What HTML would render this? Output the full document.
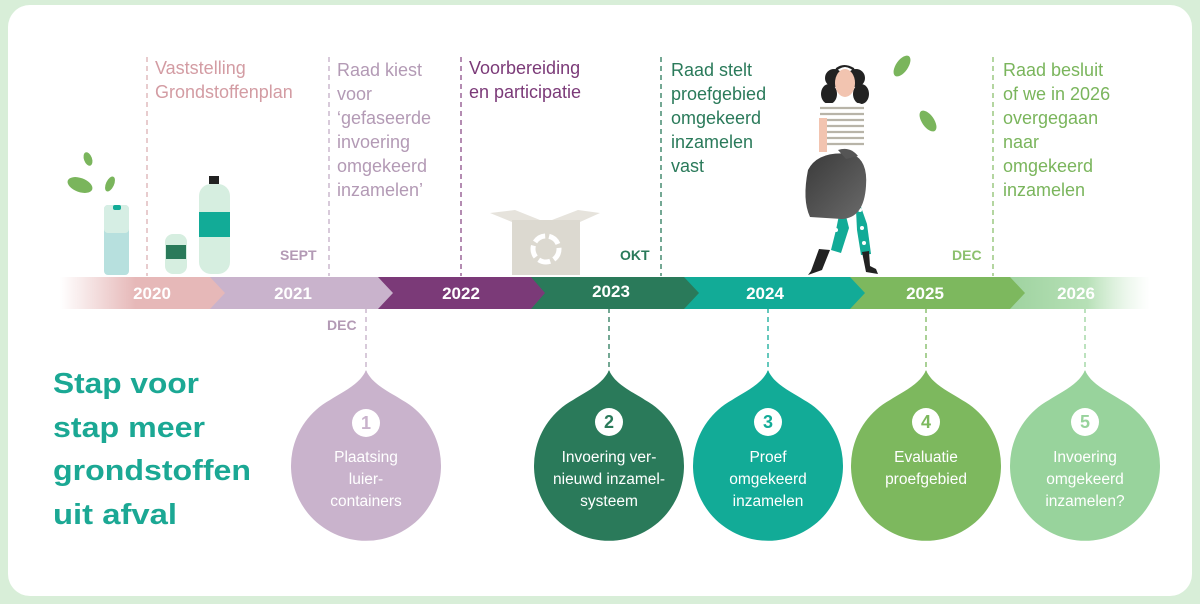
<!DOCTYPE html>
<html><head><meta charset="utf-8"><style>
html,body{margin:0;padding:0;background:#d8eed8;}
svg{display:block;font-family:"Liberation Sans",sans-serif;}
</style></head><body>
<svg width="1200" height="604" viewBox="0 0 1200 604" xmlns="http://www.w3.org/2000/svg">
<defs>
<linearGradient id="gL" x1="0" x2="1"><stop offset="0" stop-color="#e6b8b8" stop-opacity="0"/><stop offset="0.45" stop-color="#e6b8b8"/></linearGradient>
<linearGradient id="gR" x1="0" x2="1"><stop offset="0" stop-color="#9fd3a0"/><stop offset="0.55" stop-color="#b6e0b6"/><stop offset="1" stop-color="#d8efd8" stop-opacity="0"/></linearGradient>
<linearGradient id="bag" x1="0" x2="1" y1="0" y2="1"><stop offset="0" stop-color="#3a3a3a"/><stop offset="1" stop-color="#6a6a6a"/></linearGradient>
</defs>
<rect x="0" y="0" width="1200" height="604" fill="#d8eed8"/>
<rect x="8" y="5" width="1184" height="591" rx="22" fill="#fff"/>

<g stroke-dasharray="5,4" stroke-width="1.3" fill="none">
<line x1="147" y1="57" x2="147" y2="276" stroke="#dcb0b4"/>
<line x1="329" y1="57" x2="329" y2="276" stroke="#c4adc6"/>
<line x1="461" y1="57" x2="461" y2="276" stroke="#8b4f88"/>
<line x1="661" y1="57" x2="661" y2="276" stroke="#2a7a5a"/>
<line x1="993" y1="57" x2="993" y2="276" stroke="#8cc06e"/>
<line x1="366" y1="308" x2="366" y2="372" stroke="#c4adc6"/>
<line x1="609" y1="308" x2="609" y2="372" stroke="#2a7a5a"/>
<line x1="768" y1="308" x2="768" y2="372" stroke="#12ab97"/>
<line x1="926" y1="308" x2="926" y2="372" stroke="#7db85e"/>
<line x1="1085" y1="308" x2="1085" y2="372" stroke="#98d39c"/>
</g>

<g font-size="18">
<text fill="#d39ca3"><tspan x="155" y="74">Vaststelling</tspan><tspan x="155" y="98">Grondstoffenplan</tspan></text>
<text fill="#b39ab5"><tspan x="337" y="76">Raad kiest</tspan><tspan x="337" y="100">voor</tspan><tspan x="337" y="124">‘gefaseerde</tspan><tspan x="337" y="148">invoering</tspan><tspan x="337" y="172">omgekeerd</tspan><tspan x="337" y="196">inzamelen’</tspan></text>
<text fill="#7b3a78"><tspan x="469" y="74">Voorbereiding</tspan><tspan x="469" y="98">en participatie</tspan></text>
<text fill="#2a7a5a"><tspan x="671" y="76">Raad stelt</tspan><tspan x="671" y="100">proefgebied</tspan><tspan x="671" y="124">omgekeerd</tspan><tspan x="671" y="148">inzamelen</tspan><tspan x="671" y="172">vast</tspan></text>
<text fill="#7ab55c"><tspan x="1003" y="76">Raad besluit</tspan><tspan x="1003" y="100">of we in 2026</tspan><tspan x="1003" y="124">overgegaan</tspan><tspan x="1003" y="148">naar</tspan><tspan x="1003" y="172">omgekeerd</tspan><tspan x="1003" y="196">inzamelen</tspan></text>
</g>
<g font-size="14" font-weight="bold">
<text x="280" y="260" fill="#b39ab5">SEPT</text>
<text x="327" y="330" fill="#b39ab5">DEC</text>
<text x="620" y="260" fill="#2a7a5a">OKT</text>
<text x="952" y="260" fill="#8cc06e">DEC</text>
</g>

<g>
<ellipse cx="80" cy="185" rx="13" ry="7" fill="#7ab55c" transform="rotate(20 80 185)"/>
<ellipse cx="88" cy="159" rx="4" ry="7" fill="#7ab55c" transform="rotate(-20 88 159)"/>
<ellipse cx="110" cy="184" rx="4" ry="8" fill="#7ab55c" transform="rotate(25 110 184)"/>
<rect x="104" y="205" width="25" height="70" rx="4" fill="#b7e0de"/>
<rect x="104" y="205" width="25" height="28" rx="4" fill="#d6eee4"/>
<rect x="113" y="205" width="8" height="5" rx="2" fill="#12ab97"/>
<rect x="165" y="234" width="22" height="40" rx="8" fill="#d6eee0"/>
<rect x="166" y="245" width="20" height="14" fill="#2a7a5a"/>
<rect x="209" y="176" width="10" height="8" fill="#222"/>
<rect x="199" y="184" width="31" height="90" rx="12" fill="#d6eee0"/>
<rect x="199" y="212" width="31" height="25" fill="#12ab97"/>
</g>
<g>
<polygon points="490,213 512,222 540,220 515,210" fill="#e6e3dc"/>
<polygon points="600,213 580,222 552,220 578,210" fill="#e6e3dc"/>
<rect x="512" y="220" width="68" height="55" fill="#dcd9d0"/>
<circle cx="546" cy="249" r="13" fill="none" stroke="#fff" stroke-width="5" stroke-dasharray="12,4"/>
</g>
<ellipse cx="902" cy="66" rx="6" ry="12" fill="#7ab55c" transform="rotate(35 902 66)"/>
<ellipse cx="928" cy="121" rx="6" ry="12" fill="#7ab55c" transform="rotate(-35 928 121)"/>
<g>
<circle cx="834" cy="78" r="9" fill="#222"/><circle cx="856" cy="78" r="9" fill="#222"/>
<ellipse cx="829" cy="94" rx="8" ry="10" fill="#222"/><ellipse cx="861" cy="94" rx="8" ry="10" fill="#222"/>
<ellipse cx="845" cy="83" rx="10" ry="14" fill="#f2c4b0"/>
<path d="M834 74 q11 -14 22 0 l-2 -6 q-10 -6 -18 0z" fill="#222"/>
<rect x="820" y="103" width="44" height="48" rx="6" fill="#fff"/>
<g stroke="#b8b4a8" stroke-width="2.2"><line x1="820" y1="108" x2="864" y2="108"/><line x1="820" y1="114" x2="864" y2="114"/><line x1="820" y1="120" x2="864" y2="120"/><line x1="820" y1="126" x2="864" y2="126"/><line x1="820" y1="132" x2="864" y2="132"/><line x1="820" y1="138" x2="864" y2="138"/><line x1="820" y1="144" x2="864" y2="144"/></g>
<rect x="819" y="118" width="8" height="34" fill="#f2c4b0"/>
<path d="M842 200 l-6 30 l-5 20 l10 3 l8 -25 z" fill="#12ab97"/>
<path d="M855 190 l2 40 l4 25 l10 -1 l-4 -30 z" fill="#12ab97"/>
<circle cx="838" cy="215" r="2" fill="#fff"/><circle cx="836" cy="230" r="2" fill="#fff"/><circle cx="860" cy="210" r="2" fill="#fff"/><circle cx="862" cy="228" r="2" fill="#fff"/><circle cx="864" cy="243" r="2" fill="#fff"/>
<path d="M830 250 l-8 20 l-14 5 l3 -4 l8 -22z" fill="#222"/>
<path d="M862 252 l4 20 l12 2 l-2 -5 l-6 -3 l-1 -15z" fill="#222"/>
<path d="M808 170 q10 -20 44 -16 q16 6 14 32 q-2 32 -24 33 l-32 -2 q-8 -17 -2 -47z" fill="url(#bag)"/>
<path d="M838 150 q12 -4 20 6 l-12 3z" fill="#555"/>
</g>

<g>
<polygon points="60,277 213,277 228,293 213,309 60,309" fill="url(#gL)"/>
<polygon points="210,277 380,277 395,293 380,309 210,309 225,293" fill="#c9b3cc"/>
<polygon points="378,277 533,277 547,293 533,309 378,309 393,293" fill="#7b3a78"/>
<polygon points="531,277 686,277 701,293 686,309 531,309 545,293" fill="#2a7a5a"/>
<polygon points="684,277 852,277 867,293 852,309 684,309 699,293" fill="#12ab97"/>
<polygon points="850,277 1012,277 1027,293 1012,309 850,309 865,293" fill="#7db85e"/>
<polygon points="1010,277 1150,277 1150,309 1010,309 1025,293" fill="url(#gR)"/>
</g>
<g font-size="17" font-weight="bold" fill="#fff" text-anchor="middle">
<text x="152" y="299">2020</text><text x="293" y="299">2021</text><text x="461" y="299">2022</text>
<text x="611" y="297">2023</text><text x="765" y="299">2024</text><text x="925" y="299">2025</text><text x="1076" y="299">2026</text>
</g>

<g font-size="29" font-weight="bold" fill="#1ba894">
<text x="53" y="393" textLength="146" lengthAdjust="spacingAndGlyphs">Stap voor</text>
<text x="53" y="437" textLength="152" lengthAdjust="spacingAndGlyphs">stap meer</text>
<text x="53" y="480" textLength="198" lengthAdjust="spacingAndGlyphs">grondstoffen</text>
<text x="53" y="524" textLength="124" lengthAdjust="spacingAndGlyphs">uit afval</text>
</g>

<g>
<path d="M366 370 C372 385 392 393 402 400 A75 75 0 1 1 330 400 C340 393 360 385 366 370Z" fill="#c9b3cc"/>
<path d="M609 370 C615 385 635 393 645 400 A75 75 0 1 1 573 400 C583 393 603 385 609 370Z" fill="#2a7a5a"/>
<path d="M768 370 C774 385 794 393 804 400 A75 75 0 1 1 732 400 C742 393 762 385 768 370Z" fill="#12ab97"/>
<path d="M926 370 C932 385 952 393 962 400 A75 75 0 1 1 890 400 C900 393 920 385 926 370Z" fill="#7db85e"/>
<path d="M1085 370 C1091 385 1111 393 1121 400 A75 75 0 1 1 1049 400 C1059 393 1079 385 1085 370Z" fill="#98d39c"/>
</g>
<g fill="#fff"><circle cx="366" cy="423" r="14"/><circle cx="609" cy="422" r="14"/><circle cx="768" cy="422" r="14"/><circle cx="926" cy="422" r="14"/><circle cx="1085" cy="422" r="14"/></g>
<g font-size="18" font-weight="bold" text-anchor="middle">
<text x="366" y="429" fill="#c9b3cc">1</text><text x="609" y="428" fill="#2a7a5a">2</text><text x="768" y="428" fill="#12ab97">3</text><text x="926" y="428" fill="#7db85e">4</text><text x="1085" y="428" fill="#98d39c">5</text>
</g>
<g font-size="15.5" fill="#fff" text-anchor="middle">
<text><tspan x="366" y="462">Plaatsing</tspan><tspan x="366" y="484">luier-</tspan><tspan x="366" y="506">containers</tspan></text>
<text><tspan x="609" y="462">Invoering ver-</tspan><tspan x="609" y="484">nieuwd inzamel-</tspan><tspan x="609" y="506">systeem</tspan></text>
<text><tspan x="768" y="462">Proef</tspan><tspan x="768" y="484">omgekeerd</tspan><tspan x="768" y="506">inzamelen</tspan></text>
<text><tspan x="926" y="462">Evaluatie</tspan><tspan x="926" y="484">proefgebied</tspan></text>
<text><tspan x="1085" y="462">Invoering</tspan><tspan x="1085" y="484">omgekeerd</tspan><tspan x="1085" y="506">inzamelen?</tspan></text>
</g>
</svg>
</body></html>
